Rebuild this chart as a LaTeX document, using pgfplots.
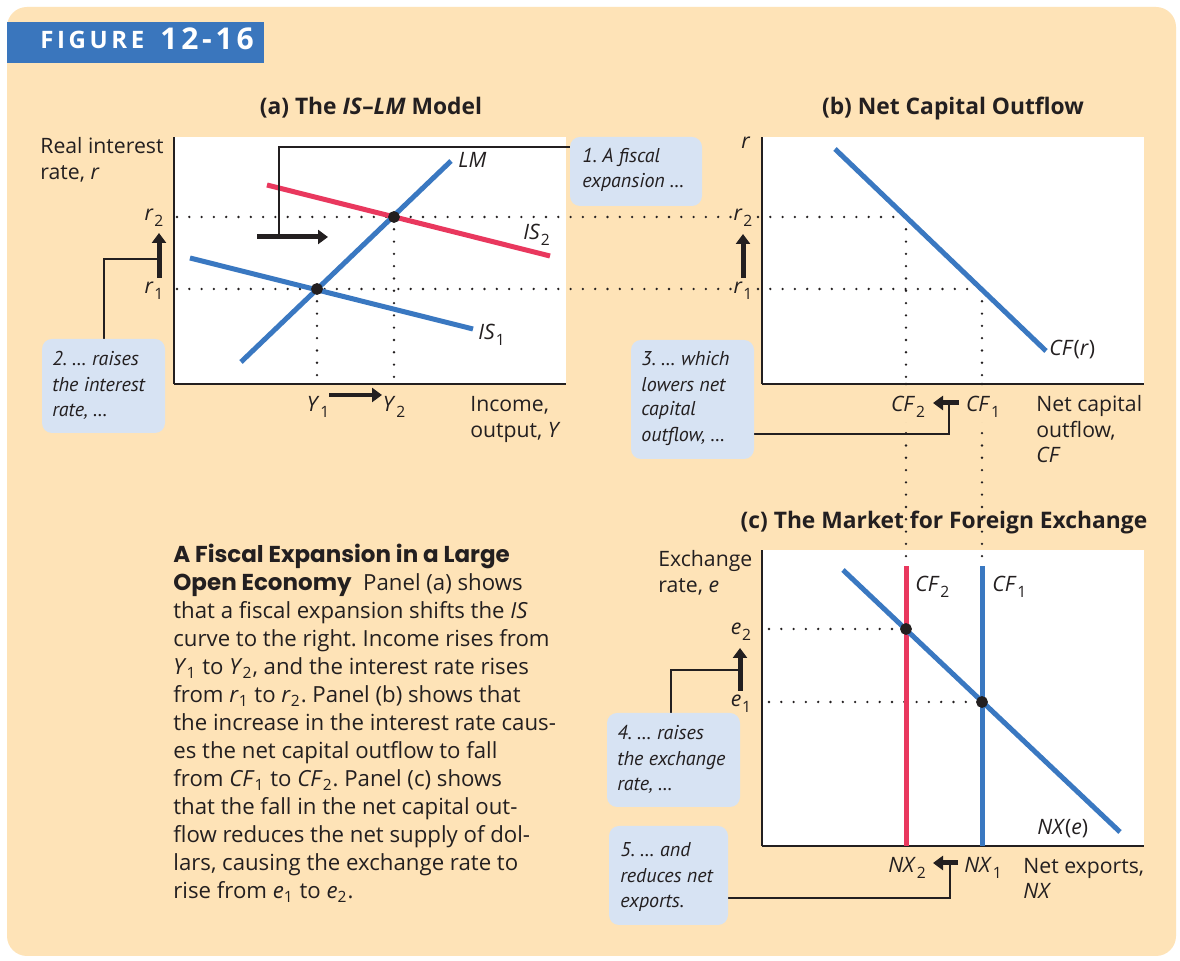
\documentclass[border=0pt]{standalone}
\usepackage{pgfplots}
\pgfplotsset{compat=1.18}
\usepackage{fontspec}
\setmainfont{Open Sans}
\newfontfamily\ptsans{PT Sans}
\newfontfamily\poppins{Poppins}
\usetikzlibrary{arrows.meta}
\frenchspacing

\definecolor{peach}{HTML}{FEE3B7}
\definecolor{figblue}{HTML}{3A76BD}
\definecolor{cblue}{HTML}{3A78C1}
\definecolor{cred}{HTML}{E9385E}
\definecolor{boxblue}{HTML}{D7E3F3}
\definecolor{ink}{HTML}{231F20}

\newcommand{\sub}[2]{\textit{#1}\kern0.04em\raisebox{-0.5ex}{\fontsize{7.8}{8}\selectfont\upshape #2}}

\tikzset{
  guide/.style={line width=1.3pt, dash pattern=on 0pt off 6.15pt, line cap=round, draw=ink},
  bigarrow/.style={line width=2.5pt, draw=ink, -{Triangle[length=5pt,width=7pt]}},
  conn/.style={line width=0.6pt, draw=ink},
  callout/.style={fill=boxblue, rounded corners=5pt},
  lbl/.style={font=\fontsize{10.6}{13}\selectfont, text=ink, inner sep=0pt},
  itl/.style={font=\ptsans\fontsize{10}{13}\selectfont\itshape, text=ink, inner sep=0pt},
  ttl/.style={font=\fontsize{11.4}{13}\selectfont\bfseries, text=ink, inner sep=0pt},
  captxt/.style={font=\fontsize{11.1}{14}\selectfont, text=ink, inner sep=0pt, anchor=base west},
}
\pgfplotsset{panel/.style={scale only axis, axis lines=left,
  axis line style={-, line width=0.75pt, draw=ink},
  xtick=\empty, ytick=\empty, clip=false,
  axis background/.style={fill=white}, anchor=north west}}

\begin{document}
\begin{tikzpicture}[x=0.5pt,y=-0.5pt]
\fill[white] (0,0) rectangle (1180,961);
\fill[peach, rounded corners=10pt] (7,7) rectangle (1176,956);
\fill[figblue] (7,22) rectangle (264,63);
\node[anchor=base west, inner sep=0pt, text=white, font=\fontsize{12}{12}\selectfont\bfseries] at (40,49) {F\kern1.8pt I\kern1.8pt G\kern1.8pt U\kern1.8pt R\kern1.8pt E};
\node[anchor=base west, inner sep=0pt, text=white, font=\fontsize{15}{16}\selectfont\bfseries] at (160,50) {1\kern1.9pt 2\kern1.9pt -\kern1.9pt 1\kern1.9pt 6};

\coordinate (pa) at (174,137);
\coordinate (pb) at (762,137);
\coordinate (pc) at (762,550);

% ---------- panel (a)
\begin{axis}[panel, at={(pa)}, width=196pt, height=123.5pt,
  xmin=0, xmax=392, ymin=0, ymax=247]
\addplot[guide] coordinates {(3,167) (559,167)};
\addplot[guide] coordinates {(3,95) (559,95)};
\addplot[guide] coordinates {(143,95) (143,0)};
\addplot[guide] coordinates {(220,167) (220,0)};
\addplot[cblue, line width=2.5pt] coordinates {(67,22) (277,223)};
\addplot[cblue, line width=2.5pt] coordinates {(16,126) (299,55)};
\addplot[cred, line width=2.5pt] coordinates {(93,199) (376,128)};
\addplot[only marks, mark=*, mark size=2.75pt, ink] coordinates {(143,95) (220,167)};
\end{axis}

% ---------- panel (b)
\begin{axis}[panel, at={(pb)}, width=191pt, height=123.5pt,
  xmin=0, xmax=382, ymin=0, ymax=247]
\addplot[guide] coordinates {(-4,167) (144,167)};
\addplot[guide] coordinates {(-4,95) (220,95)};
\addplot[guide] coordinates {(144,167) (144,0)};
\addplot[guide] coordinates {(220,95) (220,0)};
\addplot[cblue, line width=2.5pt] coordinates {(73,235) (284,33)};
\end{axis}

% ---------- panel (c)
\begin{axis}[panel, at={(pc)}, width=191pt, height=148pt,
  xmin=0, xmax=382, ymin=0, ymax=296]
\addplot[guide] coordinates {(144,462) (144,284)};
\addplot[guide] coordinates {(220,462) (220,284)};
\addplot[guide] coordinates {(7,217) (144,217)};
\addplot[guide] coordinates {(7,144) (220,144)};
\addplot[cred, line width=2.5pt] coordinates {(144,0) (144,280)};
\addplot[cblue, line width=2.5pt] coordinates {(220,0) (220,280)};
\addplot[cblue, line width=2.5pt] coordinates {(81,276) (358,14)};
\addplot[only marks, mark=*, mark size=2.75pt, ink] coordinates {(144,217) (220,144)};
\end{axis}

% ---------- titles
\node[ttl, anchor=base] at (371,115) {(a) The \textit{IS}--\textit{LM} Model};
\node[ttl, anchor=base] at (953,115) {(b) Net Capital Outflow};
\node[ttl, anchor=base] at (944,529) {(c) The Market for Foreign Exchange};

% ---------- axis labels
\node[lbl, anchor=base west] at (40,154) {Real interest};
\node[lbl, anchor=base west] at (40,180) {rate, \textit{r}};
\node[lbl, anchor=base west] at (470,412) {Income,};
\node[lbl, anchor=base west] at (470,438) {output, \textit{Y}};
\node[lbl, anchor=base] at (746,149) {\textit{r}};
\node[lbl, anchor=base west] at (1036,412) {Net capital};
\node[lbl, anchor=base west] at (1036,438) {outflow,};
\node[lbl, anchor=base west] at (1036,463) {\textit{CF}};
\node[lbl, anchor=base west] at (658,567) {Exchange};
\node[lbl, anchor=base west] at (658,593) {rate, \textit{e}};
\node[lbl, anchor=base west] at (1023,874) {Net exports,};
\node[lbl, anchor=base west] at (1023,899) {\textit{NX}};

% ---------- curve labels
\node[lbl, anchor=base west] at (458,168) {\textit{LM}};
\node[lbl, anchor=base west] at (523,240) {\sub{IS}{2}};
\node[lbl, anchor=base west] at (478,340) {\sub{IS}{1}};
\node[lbl, anchor=base west] at (1049,356) {\textit{CF}(\textit{r})};
\node[lbl, anchor=base west] at (1037,835) {\textit{NX}(\textit{e})};
\node[lbl, anchor=base west] at (915,592) {\sub{CF}{2}};
\node[lbl, anchor=base west] at (992,592) {\sub{CF}{1}};

% ---------- tick-like labels
\node[lbl, anchor=base] at (154,221) {\sub{r}{2}};
\node[lbl, anchor=base] at (154,294) {\sub{r}{1}};
\node[lbl, anchor=base] at (743,221) {\sub{r}{2}};
\node[lbl, anchor=base] at (743,294) {\sub{r}{1}};
\node[lbl, anchor=base] at (318,412) {\sub{Y}{1}};
\node[lbl, anchor=base] at (394,412) {\sub{Y}{2}};
\node[lbl, anchor=base, fill=peach, inner sep=2pt] at (908,412) {\sub{CF}{2}};
\node[lbl, anchor=base, fill=peach, inner sep=2pt] at (983,412) {\sub{CF}{1}};
\node[lbl, anchor=base] at (907,873) {\sub{NX}{2}};
\node[lbl, anchor=base] at (983,873) {\sub{NX}{1}};
\node[lbl, anchor=base] at (741,635) {\sub{e}{2}};
\node[lbl, anchor=base] at (741,707) {\sub{e}{1}};

% ---------- connectors
\draw[conn] (279,237) -- (279,147) -- (570,147);
\draw[conn] (159,259) -- (104,259) -- (104,339);
\draw[conn] (949,403) -- (949,434) -- (754,434);
\draw[conn] (740,670) -- (671,670) -- (671,713);
\draw[conn] (950,864) -- (950,898) -- (728,898);

% ---------- arrows
\draw[bigarrow] (257,237) -- (328,237);
\draw[bigarrow, line width=2pt] (329,395) -- (382,395);
\draw[bigarrow] (159,278) -- (159,233);
\draw[bigarrow] (743,278) -- (743,234);
\draw[bigarrow] (959,403) -- (933,403);
\draw[bigarrow] (740,691) -- (740,648);
\draw[bigarrow] (958,863) -- (933,863);

% ---------- callout boxes
\fill[callout] (570,137) rectangle (702,206);
\node[itl, anchor=base west] at (582,163) {1. A fiscal};
\node[itl, anchor=base west] at (582,188) {expansion \dots};
\fill[callout] (42,339) rectangle (165,433);
\node[itl, anchor=base west] at (52,366) {2. \dots\ raises};
\node[itl, anchor=base west] at (52,392) {the interest};
\node[itl, anchor=base west] at (52,417) {rate, \dots};
\fill[callout] (631,340) rectangle (754,459);
\node[itl, anchor=base west] at (641,366) {3. \dots\ which};
\node[itl, anchor=base west] at (641,392) {lowers net};
\node[itl, anchor=base west] at (641,416) {capital};
\node[itl, anchor=base west] at (641,442) {outflow, \dots};
\fill[callout] (607,713) rectangle (740,807);
\node[itl, anchor=base west] at (617,740) {4. \dots\ raises};
\node[itl, anchor=base west] at (617,766) {the exchange};
\node[itl, anchor=base west] at (617,791) {rate, \dots};
\fill[callout] (609,826) rectangle (728,925);
\node[itl, anchor=base west] at (620,857) {5. \dots\ and};
\node[itl, anchor=base west] at (620,883) {reduces net};
\node[itl, anchor=base west] at (620,908) {exports.};

% ---------- caption
\node[captxt] at (173,563) {\poppins\bfseries\fontsize{11.5}{14}\selectfont A Fiscal Expansion in a Large};
\node[captxt] at (173,591) {{\poppins\bfseries\fontsize{11.5}{14}\selectfont Open Economy}\ \ Panel (a) shows};
\node[captxt] at (173,619) {that a fiscal expansion shifts the \textit{IS}};
\node[captxt] at (173,647) {curve to the right. Income rises from};
\node[captxt] at (173,675) {\textit{Y}\textsubscript{1} to \textit{Y}\textsubscript{2}, and the interest rate rises};
\node[captxt] at (173,703) {from \textit{r}\textsubscript{1} to \textit{r}\textsubscript{2}. Panel (b) shows that};
\node[captxt] at (173,731) {the increase in the interest rate caus-};
\node[captxt] at (173,759) {es the net capital outflow to fall};
\node[captxt] at (173,787) {from \textit{CF}\textsubscript{1} to \textit{CF}\textsubscript{2}. Panel (c) shows};
\node[captxt] at (173,815) {that the fall in the net capital out-};
\node[captxt] at (173,843) {flow reduces the net supply of dol-};
\node[captxt] at (173,871) {lars, causing the exchange rate to};
\node[captxt] at (173,899) {rise from \textit{e}\textsubscript{1} to \textit{e}\textsubscript{2}.};

\pgfresetboundingbox
\useasboundingbox (0,0) rectangle (1180,961);
\end{tikzpicture}
\end{document}
